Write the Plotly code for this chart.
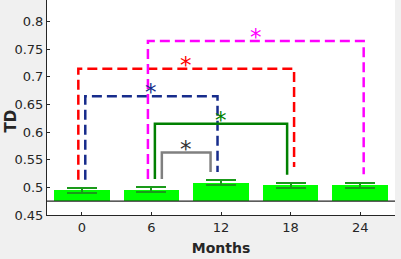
import plotly.graph_objects as go

# ---- data ----
months = ["0", "6", "12", "18", "24"]
td_mean = [0.4948, 0.4958, 0.5088, 0.5038, 0.5038]
td_sem = [0.0046, 0.0042, 0.0040, 0.0048, 0.0048]
bar_base = 0.475

# significance brackets: index pairs into months
pair_from = [0, 0, 1, 1, 1]
pair_to = [3, 2, 4, 3, 2]
pair_height = [0.715, 0.665, 0.765, 0.615, 0.563]
leg_from_bottom = [0.514, 0.514, 0.515, 0.515, 0.515]
leg_to_bottom = [0.537, 0.528, 0.524, 0.523, 0.528]
pair_label = ["*", "*", "*", "*", "*"]

# ---- styles ----
pair_color = ["#ff0000", "#172c8c", "#ff00ff", "#008000", "#808080"]
star_color = ["#ff0000", "#172c8c", "#ff00ff", "#008000", "#333333"]
pair_dash = ["10px,5px", "10px,5px", "10px,5px", "solid", "solid"]
off_from = [-0.05, 0.05, -0.05, 0.05, 0.15]
off_to = [0.05, -0.05, 0.05, -0.05, -0.15]

xpos = list(range(len(months)))

fig = go.Figure()
fig.add_trace(go.Bar(
    x=xpos,
    y=[m - bar_base for m in td_mean],
    base=bar_base,
    width=0.8,
    marker=dict(color="#00ff00", line=dict(width=0)),
    error_y=dict(type="data", array=td_sem, color="#1a9a1a", thickness=2, width=15),
    showlegend=False,
))

annotations = []
for k in range(len(pair_from)):
    i, j = pair_from[k], pair_to[k]
    xa = xpos[i] + off_from[k]
    xb = xpos[j] + off_to[k]
    fig.add_trace(go.Scatter(
        x=[xa, xa, xb, xb],
        y=[leg_from_bottom[k], pair_height[k], pair_height[k], leg_to_bottom[k]],
        mode="lines",
        line=dict(color=pair_color[k], width=2.5, dash=pair_dash[k]),
        showlegend=False,
        hoverinfo="skip",
    ))
    annotations.append(dict(
        x=(xa + xb) / 2, y=pair_height[k], xref="x", yref="y",
        text=pair_label[k], showarrow=False,
        font=dict(family="DejaVu Sans", size=23, color=star_color[k]),
        yanchor="bottom", yshift=-11,
    ))

# y-axis label (placed slightly below the plot's mid-height, as in the original)
annotations.append(dict(
    x=-0.1034, y=0.435, xref="paper", yref="paper", text="<b>TD</b>",
    showarrow=False, textangle=-90,
    font=dict(family="DejaVu Sans", size=15, color="#262626"),
    xanchor="center", yanchor="middle",
))

fig.add_shape(type="line", xref="paper", yref="y", x0=0, x1=1,
              y0=bar_base, y1=bar_base, line=dict(color="#262626", width=1.3))

fig.update_layout(
    width=401, height=259,
    margin=dict(l=47, r=6, t=0, b=44, pad=0),
    paper_bgcolor="#f0f0f0",
    plot_bgcolor="#ffffff",
    font=dict(family="DejaVu Sans", size=13, color="#262626"),
    bargap=0,
    hovermode=False,
    annotations=annotations,
    xaxis=dict(
        range=[-0.5, 4.5], tickvals=xpos, ticktext=months,
        ticks="inside", ticklen=3, tickcolor="#262626",
        showline=True, linecolor="#262626", linewidth=1,
        showgrid=False, zeroline=False,
        title=dict(text="<b>Months</b>", font=dict(size=14, color="#262626"), standoff=9),
    ),
    yaxis=dict(
        range=[0.45, 0.8393], tick0=0.45, dtick=0.05,
        ticks="inside", ticklen=3, tickcolor="#262626",
        showline=True, linecolor="#262626", linewidth=1,
        showgrid=False, zeroline=False,
    ),
)

fig.write_html(
    "out.html",
    config={"displayModeBar": False},
    post_script="document.body.style.margin='0';document.body.style.overflow='hidden';",
)
